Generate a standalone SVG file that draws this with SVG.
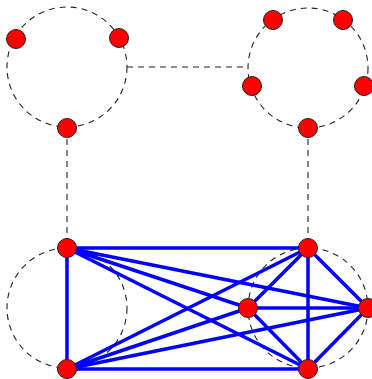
<svg xmlns="http://www.w3.org/2000/svg" width="372" height="379" viewBox="0 0 372 379">
<style>
.d{fill:none;stroke:#222;stroke-width:1.1;stroke-dasharray:6,5}
.e{stroke:#0000ff;stroke-width:3.5;fill:none}
.n{fill:#ff0000;stroke:#222;stroke-width:1}
</style>
<rect width="372" height="379" fill="#fff"/>
<g id="hulls">
<circle class="d" cx="67" cy="67" r="60"/>
<circle class="d" cx="308" cy="68" r="60"/>
<circle class="d" cx="67" cy="308" r="60"/>
<circle class="d" cx="308" cy="308" r="60"/>
</g>
<g id="connectors">
<line class="d" x1="127" y1="67" x2="248" y2="67"/>
<line class="d" x1="67" y1="128" x2="67" y2="248"/>
<line class="d" x1="308" y1="128" x2="308" y2="248"/>
<line class="e" x1="67" y1="248" x2="67" y2="369"/>
<line class="e" x1="67" y1="248" x2="308" y2="248"/>
<line class="e" x1="67" y1="248" x2="248" y2="308"/>
<line class="e" x1="67" y1="248" x2="368" y2="308"/>
<line class="e" x1="67" y1="248" x2="308" y2="369"/>
<line class="e" x1="67" y1="369" x2="308" y2="248"/>
<line class="e" x1="67" y1="369" x2="248" y2="308"/>
<line class="e" x1="67" y1="369" x2="368" y2="308"/>
<line class="e" x1="67" y1="369" x2="308" y2="369"/>
<line class="e" x1="308" y1="248" x2="248" y2="308"/>
<line class="e" x1="308" y1="248" x2="368" y2="308"/>
<line class="e" x1="308" y1="248" x2="308" y2="369"/>
<line class="e" x1="248" y1="308" x2="368" y2="308"/>
<line class="e" x1="248" y1="308" x2="308" y2="369"/>
<line class="e" x1="368" y1="308" x2="308" y2="369"/>
</g>
<g id="n1"><circle class="n" cx="16" cy="39" r="9.5"/></g>
<g id="n2"><circle class="n" cx="119" cy="38" r="9.5"/></g>
<g id="n3"><circle class="n" cx="67" cy="128" r="9.5"/></g>
<g id="n4"><circle class="n" cx="273" cy="20" r="9.5"/></g>
<g id="n5"><circle class="n" cx="343" cy="20" r="9.5"/></g>
<g id="n6"><circle class="n" cx="252" cy="86" r="9.5"/></g>
<g id="n7"><circle class="n" cx="364" cy="86" r="9.5"/></g>
<g id="n8"><circle class="n" cx="308" cy="128" r="9.5"/></g>
<g id="n9"><circle class="n" cx="67" cy="248" r="9.5"/></g>
<g id="n10"><circle class="n" cx="67" cy="369" r="9.5"/></g>
<g id="n11"><circle class="n" cx="308" cy="248" r="9.5"/></g>
<g id="n12"><circle class="n" cx="248" cy="308" r="9.5"/></g>
<g id="n13"><circle class="n" cx="368" cy="308" r="9.5"/></g>
<g id="n14"><circle class="n" cx="308" cy="369" r="9.5"/></g>
</svg>
